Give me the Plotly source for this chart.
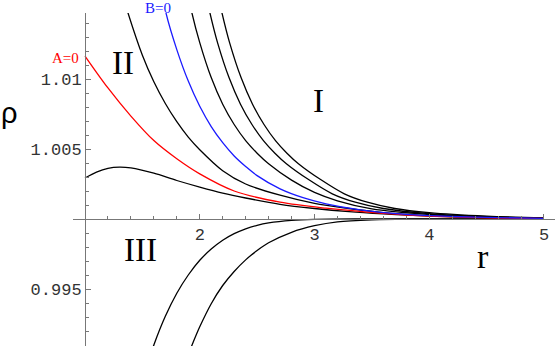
import plotly.graph_objects as go

# curve samples: r and (rho - 1) * 1000
r_c4 = [2.16, 2.194, 2.26, 2.36, 2.46, 2.56, 2.66, 2.76, 2.86, 3.06, 3.26, 3.46, 3.7, 4.0, 4.5, 5.0]
d_c4 = [16.0, 14.71, 12.6, 10.1, 8.2, 6.75, 5.6, 4.7, 3.95, 2.78, 1.8, 1.2, 0.75, 0.45, 0.2, 0.08]

r_c3 = [2.055, 2.089, 2.155, 2.255, 2.355, 2.455, 2.555, 2.655, 2.755, 2.955, 3.155, 3.355, 3.6, 4.0, 4.5, 5.0]
d_c3 = [16.0, 14.71, 12.6, 10.1, 8.2, 6.75, 5.6, 4.7, 3.95, 2.78, 1.8, 1.2, 0.75, 0.38, 0.16, 0.06]

r_c2 = [1.9, 1.932, 2.0, 2.1, 2.2, 2.3, 2.4, 2.5, 2.6, 2.8, 3.0, 3.2, 3.5, 4.0, 4.5, 5.0]
d_c2 = [16.0, 14.71, 12.6, 10.1, 8.2, 6.75, 5.6, 4.7, 3.95, 2.78, 1.9, 1.3, 0.72, 0.32, 0.13, 0.05]

r_b0 = [1.675, 1.706, 1.8, 1.9, 2.0, 2.1, 2.2, 2.3, 2.4, 2.5, 2.7, 2.9, 3.1, 3.4, 3.8, 4.2, 4.6, 5.0]
d_b0 = [16.0, 14.71, 12.1, 9.85, 8.05, 6.6, 5.45, 4.5, 3.75, 3.1, 2.15, 1.52, 1.08, 0.65, 0.33, 0.18, 0.1, 0.05]

r_c1 = [1.35, 1.375, 1.5, 1.6, 1.7, 1.8, 1.9, 2.0, 2.2, 2.4, 2.7, 3.0, 3.3, 3.6, 4.0, 4.5, 5.0]
d_c1 = [15.4, 14.71, 11.7, 9.8, 8.25, 6.95, 5.85, 4.95, 3.45, 2.5, 1.7, 1.12, 0.75, 0.45, 0.24, 0.1, 0.04]

r_a0 = [1.0, 1.2, 1.4, 1.6, 1.8, 2.0, 2.3, 2.7, 3.1, 3.6, 4.0, 4.5, 5.0]
d_a0 = [11.64, 9.36, 7.35, 5.6, 4.3, 3.22, 2.0, 1.2, 0.77, 0.4, 0.2, 0.09, 0.04]

r_h = [1.0, 1.1, 1.2, 1.3, 1.4, 1.6, 1.8, 2.0, 2.2, 2.4, 2.7, 3.0, 3.3, 3.6, 4.0, 4.5, 5.0]
d_h = [2.93, 3.35, 3.62, 3.71, 3.65, 3.27, 2.75, 2.28, 1.85, 1.5, 1.05, 0.75, 0.52, 0.36, 0.2, 0.09, 0.04]

r_l1 = [1.56, 1.6, 1.7, 1.8, 1.9, 2.0, 2.1, 2.2, 2.3, 2.4, 2.5, 2.6, 2.8, 3.0, 3.4, 4.0, 5.0]
d_l1 = [-10.0, -9.0, -6.95, -5.3, -4.0, -2.95, -2.15, -1.52, -1.05, -0.7, -0.45, -0.28, -0.1, -0.03, 0.0, 0.0, 0.0]

r_l2 = [1.885, 1.94, 2.0, 2.1, 2.2, 2.3, 2.4, 2.5, 2.6, 2.8, 3.0, 3.2, 3.5, 4.0, 5.0]
d_l2 = [-10.0, -8.86, -7.7, -6.05, -4.75, -3.75, -2.92, -2.25, -1.7, -0.95, -0.48, -0.2, -0.06, -0.01, 0.0]

x_ticks = [2, 3, 4, 5]
y_ticks = [0.995, 1.005, 1.01]
y_ticktext = ["0.995", "1.005", "1.01"]

W, H = 557, 346
ML, MR, MT, MB = 73, 2, 13, 0
xr = [0.8954, 5.096]
yr = [0.990929, 1.014714]

curves = [
    (r_c4, d_c4, "black"), (r_c3, d_c3, "black"), (r_c2, d_c2, "black"),
    (r_c1, d_c1, "black"), (r_h, d_h, "black"),
    (r_l1, d_l1, "black"), (r_l2, d_l2, "black"),
    (r_a0, d_a0, "#ff0000"), (r_b0, d_b0, "#1a1aff"),
]

fig = go.Figure()
for xs, ds, col in curves:
    ys = [1 + d / 1000 for d in ds]
    fig.add_trace(go.Scatter(x=xs, y=ys, mode="lines",
                             line=dict(color=col, width=1.3, shape="spline", smoothing=0.9),
                             showlegend=False, hoverinfo="skip"))


def px(x, y):
    # pixel position -> paper fraction
    return (x - ML) / (W - ML - MR), (H - MB - y) / (H - MT - MB)


def label(text, x, y, size, color="black", family="Liberation Serif"):
    ax, ay = px(x, y)
    fig.add_annotation(x=ax, y=ay, xref="paper", yref="paper", text=text, showarrow=False,
                       xanchor="center", yanchor="middle",
                       font=dict(family=family, size=size, color=color))


label("A=0", 65, 58, 15, "#ff0000")
label("B=0", 158, 8, 15, "#1a1aff")
label("I", 318, 101, 33)
label("II", 123, 63, 33)
label("III", 140, 250, 33)
label("r", 483, 256, 34)
label("ρ", 10, 113, 29, family="Liberation Sans")

axis_col = "#777777"
tick_font = dict(family="Liberation Mono", size=17, color="#333333")
fig.update_xaxes(range=xr, anchor="free", position=(1 - yr[0]) / (yr[1] - yr[0]), automargin=False,
                 showgrid=False, zeroline=False, showline=True, linecolor=axis_col, linewidth=1,
                 tickmode="array", tickvals=x_ticks, ticks="inside", ticklen=5, tickcolor=axis_col,
                 minor=dict(tickmode="linear", tick0=1, dtick=0.2, ticks="inside", ticklen=3,
                            tickcolor=axis_col, showgrid=False),
                 tickfont=tick_font)
fig.update_yaxes(range=yr, anchor="free", position=(1 - xr[0]) / (xr[1] - xr[0]), automargin=False,
                 showgrid=False, zeroline=False, showline=True, linecolor=axis_col, linewidth=1,
                 tickmode="array", tickvals=y_ticks, ticktext=y_ticktext,
                 ticks="inside", ticklen=5, tickcolor=axis_col,
                 minor=dict(tickmode="linear", tick0=1, dtick=0.001, ticks="inside", ticklen=3,
                            tickcolor=axis_col, showgrid=False),
                 tickfont=tick_font)

fig.update_layout(width=W, height=H, margin=dict(l=ML, r=MR, t=MT, b=MB, autoexpand=False),
                  paper_bgcolor="white", plot_bgcolor="white")

# the page's default body margin would push the figure 8px off the corner
fig.write_html("out.html", config={"displayModeBar": False},
               post_script="document.body.style.margin='0';")
